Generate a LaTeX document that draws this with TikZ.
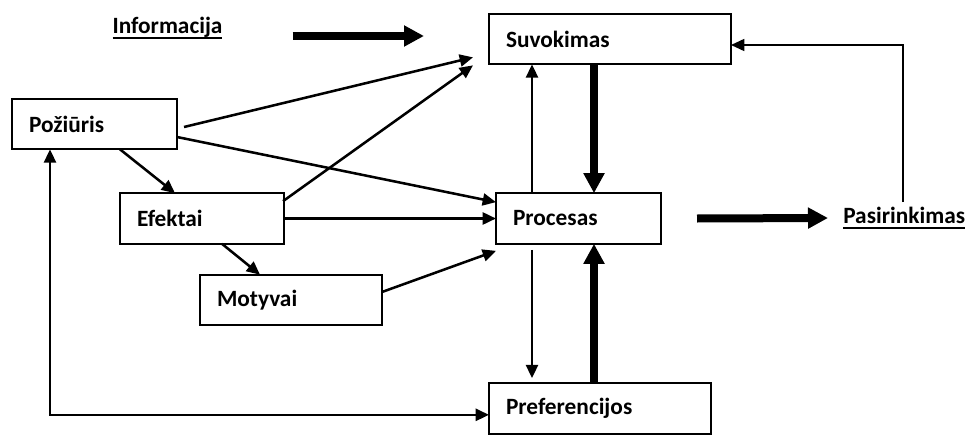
\documentclass[tikz,border=0pt]{standalone}
\usepackage{fontspec}
\setmainfont{Carlito}
\usetikzlibrary{arrows.meta,calc}
% underline with a heavier rule than \underline gives
\newcommand\ulbold[1]{\setbox0\hbox{#1}\rlap{\rule[-3.6pt]{\wd0}{1.4pt}}\box0}
\begin{document}
\begin{tikzpicture}[x=0.75pt,y=-0.75pt,
  txt/.style={font=\fontsize{17.5}{21}\selectfont\bfseries},
  box/.style={txt, draw, line width=1.4pt, inner xsep=12.75pt, inner ysep=0pt,
    outer sep=0pt, align=left, minimum height=38pt},
  lbl/.style={txt, inner sep=0pt},
  thin arrow/.style={line width=1.9pt, -{Triangle[length=10pt,width=9pt]}},
  thick arrow/.style={line width=6pt, -{Triangle[length=15pt,width=15pt]}},
  both arrow/.style={line width=1.9pt, {Triangle[length=10pt,width=9pt]}-{Triangle[length=10pt,width=9pt]}},
]
\useasboundingbox (0,0) rectangle (970,435);

% boxes
\node[box, text width=156pt]   (suv) at (610,39)    {Suvokimas};
\node[box, text width=98.25pt] (poz) at (94.5,124)  {Požiūris};
\node[box, text width=97.5pt]  (efe) at (202,218.5) {Efektai};
\node[box, text width=98.25pt] (pro) at (578.5,218.5) {Procesas};
\node[box, text width=111pt]   (mot) at (291,300)   {Motyvai};
\node[box, text width=141pt]   (pre) at (600,408.5) {Preferencijos};

% free labels
\node[lbl] (info) at (167.5,28) {\ulbold{Informacija}};
\node[lbl, anchor=west] (pas) at (843,218) {\ulbold{Pasirinkimas}};

% thick flows
\draw[thick arrow] ($(info.east)+(70,8)$) -- ($(suv.west)+(-65,-3)$);
\draw[thick arrow] ($(suv.south west)+(105,0)$) -- ($(pro.north west)+(98,0)$);
\draw[thick arrow] ($(pre.north west)+(105,0)$) -- ($(pro.south west)+(98,0)$);
\draw[thick arrow] ($(pro.east)+(36,0)$) -- ($(pas.west)+(-15,0)$);

% thin influences
\draw[thin arrow] ($(poz.east)+(7,3)$) -- ($(suv.south west)+(-16,-7)$);
\draw[thin arrow] ($(efe.north east)+(-1,8)$) -- ($(suv.south west)+(-16,1)$);
\draw[thin arrow] ($(poz.east)+(0,13)$) -- ($(pro.north west)+(0,9)$);
\draw[thin arrow] ($(poz.south east)+(-57,0)$) -- ($(efe.north west)+(55,0)$);
\draw[thin arrow] (efe.east) -- (pro.west);
\draw[thin arrow] ($(efe.south west)+(102,0)$) -- ($(mot.north west)+(60,0)$);
\draw[thin arrow] ($(mot.east)+(0,-8)$) -- ($(pro.south west)+(0,7)$);
\draw[thin arrow] ($(pro.north west)+(36,0)$) -- ($(suv.south west)+(43,0)$);
\draw[thin arrow] ($(pro.south west)+(36,6)$) -- ($(pre.north west)+(43,-5)$);

% feedback loops
\draw[line width=1.2pt, -{Triangle[length=10pt,width=9pt]}]
  ($(pas.west)+(60,-16)$) |- ($(suv.east)+(0,6)$);
\draw[both arrow]
  ($(poz.south west)+(38,0)$) |- ($(pre.south west)+(0,-19)$);
\end{tikzpicture}
\end{document}
